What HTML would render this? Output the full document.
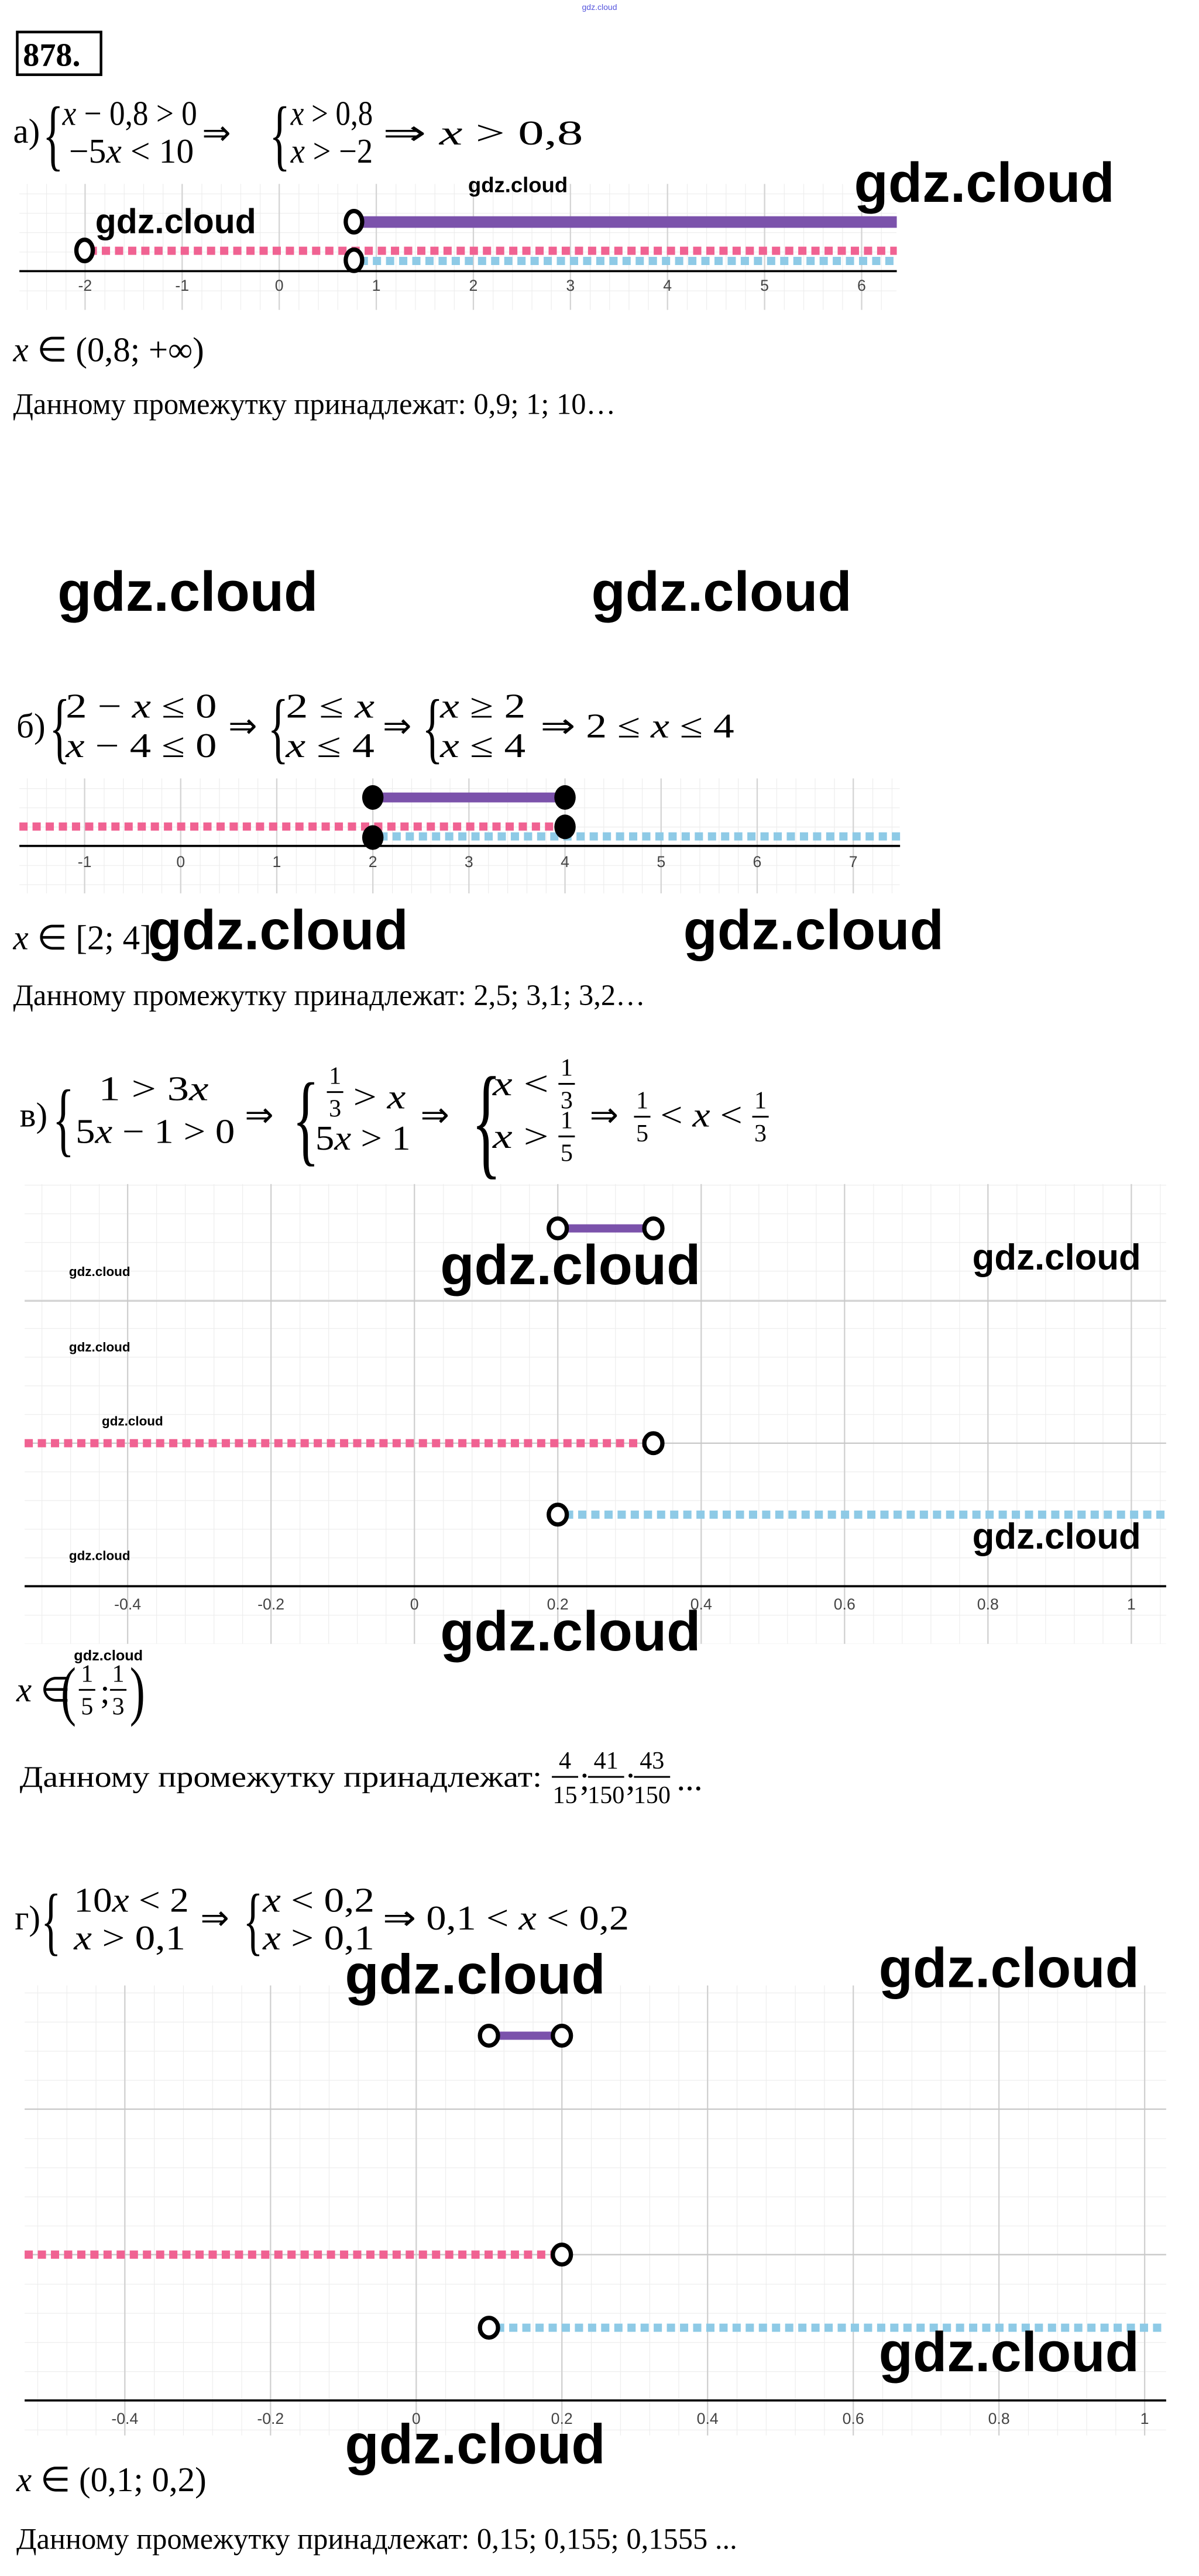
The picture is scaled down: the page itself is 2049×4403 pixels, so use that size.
<!DOCTYPE html>
<html><head><meta charset="utf-8"><style>
html,body{margin:0;padding:0;background:#fff}
svg{display:block}
.m{font-family:"Liberation Serif",serif;font-size:21px;fill:#000}
.f{font-family:"Liberation Serif",serif;font-size:15px;fill:#000;text-anchor:middle}
.i{font-style:italic}
.t{font-family:"Liberation Serif",serif;font-size:18px;fill:#000}
.w{font-family:"Liberation Sans",sans-serif;font-weight:bold;fill:#000}
.tk{font-family:"Liberation Sans",sans-serif;font-size:9.5px;fill:#444;text-anchor:middle}
.br{font-family:"Liberation Serif",serif;fill:#000}
</style></head><body>
<svg width="2049" height="4403" viewBox="0 0 730 1568.6" preserveAspectRatio="none" xmlns="http://www.w3.org/2000/svg">
<defs>
<pattern id="ga" x="51.8" y="165.1" width="11.82" height="11.82" patternUnits="userSpaceOnUse"><path d="M0 0V11.82M0 0H11.82" stroke="#ececec" stroke-width="0.8" fill="none"/></pattern>
<pattern id="gb" x="51.5" y="515.1" width="11.7" height="11.7" patternUnits="userSpaceOnUse"><path d="M0 0V11.7M0 0H11.7" stroke="#ececec" stroke-width="0.8" fill="none"/></pattern>
<pattern id="gc" x="77.7" y="965.9" width="17.46" height="17.46" patternUnits="userSpaceOnUse"><path d="M0 0V17.46M0 0H17.46" stroke="#ececec" stroke-width="0.8" fill="none"/></pattern>
<pattern id="gd" x="76" y="1461.7" width="17.74" height="17.74" patternUnits="userSpaceOnUse"><path d="M0 0V17.74M0 0H17.74" stroke="#ececec" stroke-width="0.8" fill="none"/></pattern>
</defs>
<rect width="730" height="1568.6" fill="#fff"/>
<text x="365" y="6" font-family="Liberation Sans,sans-serif" font-size="5" fill="#5555dd" text-anchor="middle">gdz.cloud</text>
<rect x="10.5" y="19.5" width="51" height="26" fill="none" stroke="#000" stroke-width="1.6"/>
<text x="14" y="40" font-family="Liberation Serif,serif" font-weight="bold" font-size="20">878.</text>

<!-- a) -->
<text class="m" x="8" y="87">а)</text>
<text class="br" x="0" y="0" font-size="48" transform="translate(26 98) scale(0.55 1)">{</text>
<text class="m" x="38" y="76" textLength="82" lengthAdjust="spacingAndGlyphs"><tspan class="i">x</tspan> − 0,8 &gt; 0</text>
<text class="m" x="42" y="99" textLength="76" lengthAdjust="spacingAndGlyphs">−5<tspan class="i">x</tspan> &lt; 10</text>
<text class="m" x="123" y="88">⇒</text>
<text class="br" x="0" y="0" font-size="48" transform="translate(164 98) scale(0.55 1)">{</text>
<text class="m" x="177" y="76" textLength="50" lengthAdjust="spacingAndGlyphs"><tspan class="i">x</tspan> &gt; 0,8</text>
<text class="m" x="177" y="99" textLength="50" lengthAdjust="spacingAndGlyphs"><tspan class="i">x</tspan> &gt; −2</text>
<text class="m" x="233" y="88" textLength="122" lengthAdjust="spacingAndGlyphs">⇒ <tspan class="i">x</tspan> &gt; 0,8</text>

<rect x="11.8" y="112" width="534" height="76.7" fill="url(#ga)"/>
<g stroke="#d4d4d4" stroke-width="0.8">
<line x1="51.8" y1="112" x2="51.8" y2="188.7"/><line x1="110.9" y1="112" x2="110.9" y2="188.7"/><line x1="170" y1="112" x2="170" y2="188.7"/><line x1="229.1" y1="112" x2="229.1" y2="188.7"/><line x1="288.2" y1="112" x2="288.2" y2="188.7"/><line x1="347.3" y1="112" x2="347.3" y2="188.7"/><line x1="406.4" y1="112" x2="406.4" y2="188.7"/><line x1="465.5" y1="112" x2="465.5" y2="188.7"/><line x1="524.6" y1="112" x2="524.6" y2="188.7"/>
</g>
<line x1="11.8" y1="165.1" x2="546" y2="165.1" stroke="#000" stroke-width="1.3"/>
<g class="tk"><text x="51.8" y="177">-2</text><text x="110.9" y="177">-1</text><text x="170" y="177">0</text><text x="229.1" y="177">1</text><text x="288.2" y="177">2</text><text x="347.3" y="177">3</text><text x="406.4" y="177">4</text><text x="465.5" y="177">5</text><text x="524.6" y="177">6</text></g>
<line x1="217" y1="135.2" x2="546" y2="135.2" stroke="#7b52ab" stroke-width="7"/>
<line x1="54" y1="152.7" x2="546" y2="152.7" stroke="#f06292" stroke-width="5" stroke-dasharray="5 3"/>
<line x1="219" y1="158.9" x2="546" y2="158.9" stroke="#8ecae6" stroke-width="5" stroke-dasharray="5 3"/>
<g fill="#fff" stroke="#000" stroke-width="2.6"><ellipse cx="215.5" cy="135" rx="5" ry="6.5"/><ellipse cx="51.5" cy="152.5" rx="5" ry="6.5"/><ellipse cx="215.5" cy="158.5" rx="5" ry="6.5"/></g>
<text class="w" x="520" y="123" font-size="34">gdz.cloud</text>
<text class="w" x="58" y="142" font-size="21">gdz.cloud</text>
<text class="w" x="285" y="117" font-size="13">gdz.cloud</text>
<text class="m" x="8" y="220"><tspan class="i">x</tspan> ∈ (0,8; +∞)</text>
<text class="t" x="8" y="252">Данному промежутку принадлежат: 0,9; 1; 10…</text>
<text class="w" x="35" y="372" font-size="34">gdz.cloud</text>
<text class="w" x="360" y="372" font-size="34">gdz.cloud</text>

<!-- b) -->
<text class="m" x="10" y="449">б)</text>
<text class="br" x="0" y="0" font-size="48" transform="translate(30 459) scale(0.55 1)">{</text>
<text class="m" x="40" y="437" textLength="92" lengthAdjust="spacingAndGlyphs">2 − <tspan class="i">x</tspan> ≤ 0</text>
<text class="m" x="40" y="461" textLength="92" lengthAdjust="spacingAndGlyphs"><tspan class="i">x</tspan> − 4 ≤ 0</text>
<text class="m" x="139" y="449">⇒</text>
<text class="br" x="0" y="0" font-size="48" transform="translate(163 459) scale(0.55 1)">{</text>
<text class="m" x="174" y="437" textLength="54" lengthAdjust="spacingAndGlyphs">2 ≤ <tspan class="i">x</tspan></text>
<text class="m" x="174" y="461" textLength="54" lengthAdjust="spacingAndGlyphs"><tspan class="i">x</tspan> ≤ 4</text>
<text class="m" x="233" y="449">⇒</text>
<text class="br" x="0" y="0" font-size="48" transform="translate(257 459) scale(0.55 1)">{</text>
<text class="m" x="268" y="437" textLength="52" lengthAdjust="spacingAndGlyphs"><tspan class="i">x</tspan> ≥ 2</text>
<text class="m" x="268" y="461" textLength="52" lengthAdjust="spacingAndGlyphs"><tspan class="i">x</tspan> ≤ 4</text>
<text class="m" x="329" y="449" textLength="118" lengthAdjust="spacingAndGlyphs">⇒ 2 ≤ <tspan class="i">x</tspan> ≤ 4</text>

<rect x="11.8" y="474" width="536" height="70" fill="url(#gb)"/>
<g stroke="#d4d4d4" stroke-width="0.8">
<line x1="51.5" y1="474" x2="51.5" y2="544"/><line x1="110" y1="474" x2="110" y2="544"/><line x1="168.5" y1="474" x2="168.5" y2="544"/><line x1="227" y1="474" x2="227" y2="544"/><line x1="285.5" y1="474" x2="285.5" y2="544"/><line x1="344" y1="474" x2="344" y2="544"/><line x1="402.5" y1="474" x2="402.5" y2="544"/><line x1="461" y1="474" x2="461" y2="544"/><line x1="519.5" y1="474" x2="519.5" y2="544"/>
</g>
<line x1="11.8" y1="515.1" x2="548" y2="515.1" stroke="#000" stroke-width="1.3"/>
<g class="tk"><text x="51.5" y="528">-1</text><text x="110" y="528">0</text><text x="168.5" y="528">1</text><text x="227" y="528">2</text><text x="285.5" y="528">3</text><text x="344" y="528">4</text><text x="402.5" y="528">5</text><text x="461" y="528">6</text><text x="519.5" y="528">7</text></g>
<line x1="227" y1="485.6" x2="344" y2="485.6" stroke="#7b52ab" stroke-width="6"/>
<line x1="11.8" y1="503.3" x2="341" y2="503.3" stroke="#f06292" stroke-width="5" stroke-dasharray="5 3"/>
<line x1="231" y1="509.3" x2="548" y2="509.3" stroke="#8ecae6" stroke-width="5" stroke-dasharray="5 3"/>
<g fill="#000"><ellipse cx="227" cy="485.6" rx="6.5" ry="7.5"/><ellipse cx="344" cy="485.6" rx="6.5" ry="7.5"/><ellipse cx="344" cy="503.5" rx="6.5" ry="7.5"/><ellipse cx="227" cy="510" rx="6.5" ry="7.5"/></g>
<text class="m" x="8" y="578"><tspan class="i">x</tspan> ∈ [2; 4]</text>
<text class="w" x="90" y="578" font-size="34">gdz.cloud</text>
<text class="w" x="416" y="578" font-size="34">gdz.cloud</text>
<text class="t" x="8" y="612">Данному промежутку принадлежат: 2,5; 3,1; 3,2…</text>

<!-- c) -->
<text class="m" x="12" y="686">в)</text>
<text class="br" x="0" y="0" font-size="50" transform="translate(32 698) scale(0.55 1)">{</text>
<text class="m" x="60" y="670" textLength="67" lengthAdjust="spacingAndGlyphs">1 &gt; 3<tspan class="i">x</tspan></text>
<text class="m" x="46" y="696" textLength="97" lengthAdjust="spacingAndGlyphs">5<tspan class="i">x</tspan> − 1 &gt; 0</text>
<text class="m" x="149" y="686">⇒</text>
<text class="br" x="0" y="0" font-size="62" transform="translate(178 702) scale(0.55 1)">{</text>
<text class="f" x="204" y="660">1</text><line x1="199" y1="665" x2="209" y2="665" stroke="#000" stroke-width="1.1"/><text class="f" x="204" y="680">3</text>
<text class="m" x="215" y="675" textLength="32" lengthAdjust="spacingAndGlyphs">&gt; <tspan class="i">x</tspan></text>
<text class="m" x="192" y="700" textLength="58" lengthAdjust="spacingAndGlyphs">5<tspan class="i">x</tspan> &gt; 1</text>
<text class="m" x="256" y="686">⇒</text>
<text class="br" x="0" y="0" font-size="76" transform="translate(287 708) scale(0.5 1)">{</text>
<text class="m" x="300" y="667" textLength="34" lengthAdjust="spacingAndGlyphs"><tspan class="i">x</tspan> &lt;</text>
<text class="f" x="345" y="655">1</text><line x1="340" y1="660" x2="350" y2="660" stroke="#000" stroke-width="1.1"/><text class="f" x="345" y="675">3</text>
<text class="m" x="300" y="699" textLength="34" lengthAdjust="spacingAndGlyphs"><tspan class="i">x</tspan> &gt;</text>
<text class="f" x="345" y="687">1</text><line x1="340" y1="692" x2="350" y2="692" stroke="#000" stroke-width="1.1"/><text class="f" x="345" y="707">5</text>
<text class="m" x="359" y="686">⇒</text>
<text class="f" x="391" y="675">1</text><line x1="386" y1="680" x2="396" y2="680" stroke="#000" stroke-width="1.1"/><text class="f" x="391" y="695">5</text>
<text class="m" x="402" y="686" textLength="50" lengthAdjust="spacingAndGlyphs">&lt; <tspan class="i">x</tspan> &lt;</text>
<text class="f" x="463" y="675">1</text><line x1="458" y1="680" x2="468" y2="680" stroke="#000" stroke-width="1.1"/><text class="f" x="463" y="695">3</text>

<rect x="15" y="721" width="695" height="280" fill="url(#gc)"/>
<g stroke="#d0d0d0" stroke-width="0.8">
<line x1="77.7" y1="721" x2="77.7" y2="1001"/><line x1="165" y1="721" x2="165" y2="1001"/><line x1="252.3" y1="721" x2="252.3" y2="1001"/><line x1="339.6" y1="721" x2="339.6" y2="1001"/><line x1="426.9" y1="721" x2="426.9" y2="1001"/><line x1="514.2" y1="721" x2="514.2" y2="1001"/><line x1="601.5" y1="721" x2="601.5" y2="1001"/><line x1="688.8" y1="721" x2="688.8" y2="1001"/>
<line x1="15" y1="792.2" x2="710" y2="792.2" stroke="#c8c8c8"/><line x1="15" y1="878.8" x2="710" y2="878.8" stroke="#c8c8c8"/>
</g>
<line x1="15" y1="965.9" x2="710" y2="965.9" stroke="#000" stroke-width="1.3"/>
<g class="tk"><text x="77.7" y="980">-0.4</text><text x="165" y="980">-0.2</text><text x="252.3" y="980">0</text><text x="339.6" y="980">0.2</text><text x="426.9" y="980">0.4</text><text x="514.2" y="980">0.6</text><text x="601.5" y="980">0.8</text><text x="688.8" y="980">1</text></g>
<line x1="339.6" y1="748" x2="397.8" y2="748" stroke="#7b52ab" stroke-width="5"/>
<line x1="15" y1="878.8" x2="394" y2="878.8" stroke="#f06292" stroke-width="5" stroke-dasharray="5 3"/>
<line x1="344" y1="922.3" x2="710" y2="922.3" stroke="#8ecae6" stroke-width="5" stroke-dasharray="5 3"/>
<g fill="#fff" stroke="#000" stroke-width="2.6"><ellipse cx="339.6" cy="748" rx="5.5" ry="6"/><ellipse cx="397.8" cy="748" rx="5.5" ry="6"/><ellipse cx="397.8" cy="878.8" rx="5.5" ry="6"/><ellipse cx="339.6" cy="922.3" rx="5.5" ry="6"/></g>
<g class="w" font-size="8" font-weight="normal"><text x="42" y="777">gdz.cloud</text><text x="42" y="823">gdz.cloud</text><text x="62" y="868">gdz.cloud</text><text x="42" y="950">gdz.cloud</text></g>
<text class="w" x="268" y="782" font-size="34">gdz.cloud</text>
<text class="w" x="592" y="773" font-size="22">gdz.cloud</text>
<text class="w" x="592" y="943" font-size="22">gdz.cloud</text>
<text class="w" x="268" y="1005" font-size="34">gdz.cloud</text>
<text class="w" x="45" y="1011" font-size="9" font-weight="normal">gdz.cloud</text>
<text class="m" x="10" y="1036"><tspan class="i">x</tspan> ∈</text>
<text class="br" x="0" y="0" font-size="40" transform="translate(37 1043) scale(0.7 1)">(</text>
<text class="f" x="53" y="1024">1</text><line x1="48" y1="1029" x2="58" y2="1029" stroke="#000" stroke-width="1.1"/><text class="f" x="53" y="1044">5</text>
<text class="m" x="61" y="1037">;</text>
<text class="f" x="72" y="1024">1</text><line x1="67" y1="1029" x2="77" y2="1029" stroke="#000" stroke-width="1.1"/><text class="f" x="72" y="1044">3</text>
<text class="br" x="0" y="0" font-size="40" transform="translate(79 1043) scale(0.7 1)">)</text>
<text class="t" x="12" y="1088" textLength="318" lengthAdjust="spacingAndGlyphs">Данному промежутку принадлежат:</text>
<text class="f" x="344" y="1077">4</text><line x1="336" y1="1082" x2="352" y2="1082" stroke="#000" stroke-width="1.1"/><text class="f" x="344" y="1098">15</text>
<text class="m" x="353" y="1090">;</text>
<text class="f" x="369" y="1077">41</text><line x1="358" y1="1082" x2="380" y2="1082" stroke="#000" stroke-width="1.1"/><text class="f" x="369" y="1098">150</text>
<text class="m" x="381" y="1090">;</text>
<text class="f" x="397" y="1077">43</text><line x1="386" y1="1082" x2="408" y2="1082" stroke="#000" stroke-width="1.1"/><text class="f" x="397" y="1098">150</text>
<text class="m" x="412" y="1090">...</text>

<!-- d) -->
<text class="m" x="9" y="1175">г)</text>
<text class="br" x="0" y="0" font-size="46" transform="translate(25 1185) scale(0.55 1)">{</text>
<text class="m" x="45" y="1164" textLength="70" lengthAdjust="spacingAndGlyphs">10<tspan class="i">x</tspan> &lt; 2</text>
<text class="m" x="45" y="1187" textLength="68" lengthAdjust="spacingAndGlyphs"><tspan class="i">x</tspan> &gt; 0,1</text>
<text class="m" x="122" y="1175">⇒</text>
<text class="br" x="0" y="0" font-size="46" transform="translate(148 1185) scale(0.55 1)">{</text>
<text class="m" x="160" y="1164" textLength="68" lengthAdjust="spacingAndGlyphs"><tspan class="i">x</tspan> &lt; 0,2</text>
<text class="m" x="160" y="1187" textLength="68" lengthAdjust="spacingAndGlyphs"><tspan class="i">x</tspan> &gt; 0,1</text>
<text class="m" x="233" y="1175" textLength="150" lengthAdjust="spacingAndGlyphs">⇒ 0,1 &lt; <tspan class="i">x</tspan> &lt; 0,2</text>

<rect x="15" y="1209" width="695" height="274" fill="url(#gd)"/>
<g stroke="#d0d0d0" stroke-width="0.8">
<line x1="76" y1="1209" x2="76" y2="1483"/><line x1="164.7" y1="1209" x2="164.7" y2="1483"/><line x1="253.4" y1="1209" x2="253.4" y2="1483"/><line x1="342.1" y1="1209" x2="342.1" y2="1483"/><line x1="430.8" y1="1209" x2="430.8" y2="1483"/><line x1="519.5" y1="1209" x2="519.5" y2="1483"/><line x1="608.2" y1="1209" x2="608.2" y2="1483"/><line x1="696.9" y1="1209" x2="696.9" y2="1483"/>
<line x1="15" y1="1284.3" x2="710" y2="1284.3" stroke="#c8c8c8"/><line x1="15" y1="1372.9" x2="710" y2="1372.9" stroke="#c8c8c8"/>
</g>
<line x1="15" y1="1461.7" x2="710" y2="1461.7" stroke="#000" stroke-width="1.3"/>
<g class="tk"><text x="76" y="1476">-0.4</text><text x="164.7" y="1476">-0.2</text><text x="253.4" y="1476">0</text><text x="342.1" y="1476">0.2</text><text x="430.8" y="1476">0.4</text><text x="519.5" y="1476">0.6</text><text x="608.2" y="1476">0.8</text><text x="696.9" y="1476">1</text></g>
<line x1="297.7" y1="1239.6" x2="342.1" y2="1239.6" stroke="#7b52ab" stroke-width="5"/>
<line x1="15" y1="1372.9" x2="338" y2="1372.9" stroke="#f06292" stroke-width="5" stroke-dasharray="5 3"/>
<line x1="302" y1="1417.4" x2="710" y2="1417.4" stroke="#8ecae6" stroke-width="5" stroke-dasharray="5 3"/>
<g fill="#fff" stroke="#000" stroke-width="2.6"><ellipse cx="297.7" cy="1239.6" rx="5.5" ry="6"/><ellipse cx="342.1" cy="1239.6" rx="5.5" ry="6"/><ellipse cx="342.1" cy="1372.9" rx="5.5" ry="6"/><ellipse cx="297.7" cy="1417.4" rx="5.5" ry="6"/></g>
<text class="w" x="210" y="1214" font-size="34">gdz.cloud</text>
<text class="w" x="535" y="1210" font-size="34">gdz.cloud</text>
<text class="w" x="535" y="1444" font-size="34">gdz.cloud</text>
<text class="w" x="210" y="1500" font-size="34">gdz.cloud</text>
<text class="m" x="10" y="1517"><tspan class="i">x</tspan> ∈ (0,1; 0,2)</text>
<text class="t" x="10" y="1552">Данному промежутку принадлежат: 0,15; 0,155; 0,1555 ...</text>
</svg>
</body></html>
